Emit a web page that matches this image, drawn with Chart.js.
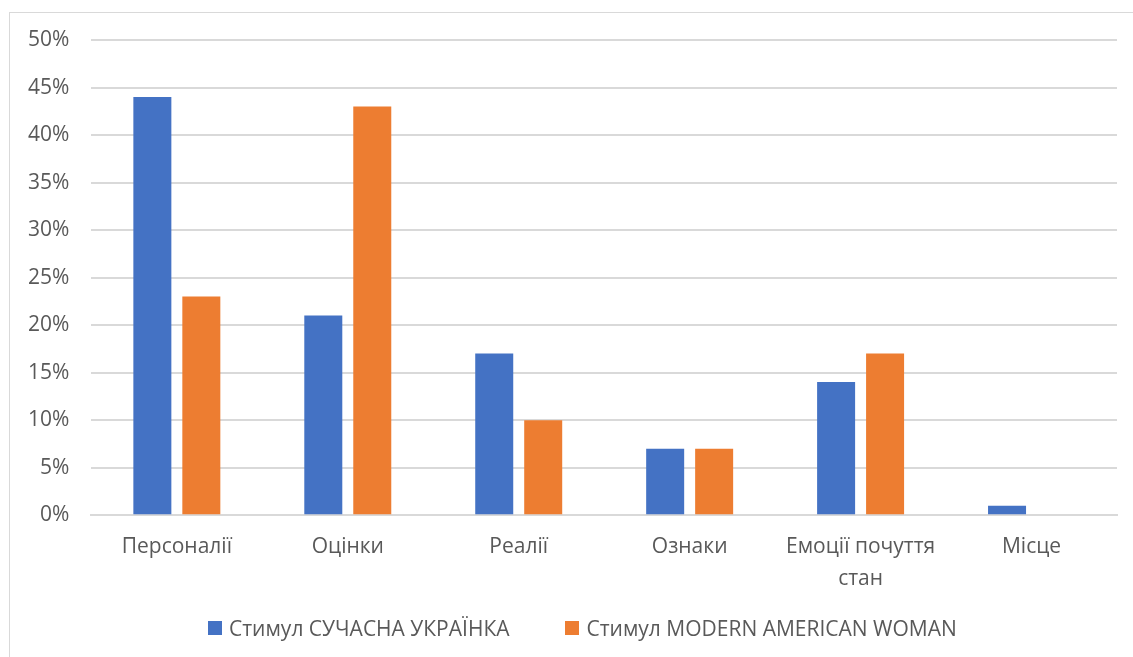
<!DOCTYPE html>
<html>
<head>
<meta charset="utf-8">
<script src="https://cdn.jsdelivr.net/npm/chart.js@4"></script>
<style>
  body { margin: 0; background: #fff; }
  #frame { position: absolute; left: 9px; top: 12px; width: 1140px; height: 660px; border: 1px solid #d9d9d9; }
  #wrap { position: absolute; left: 0; top: 0; width: 1133px; height: 657px; }
  #legend { position: absolute; left: 208px; top: 613px; height: 30px; display: flex; align-items: center;
            font-family: 'Open Sans', 'Noto Sans', sans-serif; font-size: 21px; color: #595959; white-space: nowrap; }
  #legend .item { display: flex; align-items: center; margin-right: 56px; }
  #legend .box { width: 14px; height: 14px; margin-right: 7px; }
</style>
</head>
<body>
<div id="frame"></div>
<div id="wrap"><canvas id="chart"></canvas></div>
<div id="legend"></div>
<script>
// categories and values (percent)
const categories = ["Персоналії", "Оцінки", "Реалії", "Ознаки", ["Емоції почуття", "стан"], "Місце"];
const ukrainka = [44, 21, 17, 7, 14, 1];
const american = [23, 43, 10, 7, 17, 0];
const seriesNames = ["Стимул СУЧАСНА УКРАЇНКА", "Стимул MODERN AMERICAN WOMAN"];
const seriesColors = ["#4472c4", "#ed7d31"];

const family = "'Open Sans', 'Noto Sans', sans-serif";

const chart = new Chart(document.getElementById("chart"), {
    type: "bar",
    data: {
        labels: categories,
        datasets: [
            { label: seriesNames[0], data: ukrainka, backgroundColor: seriesColors[0] },
            { label: seriesNames[1], data: american, backgroundColor: seriesColors[1] }
        ]
    },
    options: {
        responsive: true,
        maintainAspectRatio: false,
        animation: false,
        datasets: { bar: { categoryPercentage: 0.573, barPercentage: 0.776 } },
        layout: { padding: { left: 6, right: 16, top: 40, bottom: 46 } },
        scales: {
            x: {
                grid: { display: false, drawTicks: false },
                border: { display: true, color: "#d9d9d9", width: 2 },
                ticks: { color: "#595959", font: { family: family, size: 21, lineHeight: 1.52 }, padding: 16, maxRotation: 0, autoSkip: false }
            },
            y: {
                min: 0,
                max: 50,
                grid: { color: "#d9d9d9", lineWidth: 2, drawTicks: false },
                border: { display: false },
                ticks: {
                    stepSize: 5,
                    color: "#595959",
                    font: { family: family, size: 21 },
                    padding: 22,
                    callback: v => v + "%"
                }
            }
        },
        plugins: {
            legend: { display: false },
            tooltip: { enabled: false }
        }
    }
});

// legend below the chart, built from the datasets
const legend = document.getElementById("legend");
chart.data.datasets.forEach(ds => {
    const item = document.createElement("div");
    item.className = "item";
    const box = document.createElement("span");
    box.className = "box";
    box.style.background = ds.backgroundColor;
    item.appendChild(box);
    item.appendChild(document.createTextNode(ds.label));
    legend.appendChild(item);
});
</script>
</body>
</html>
